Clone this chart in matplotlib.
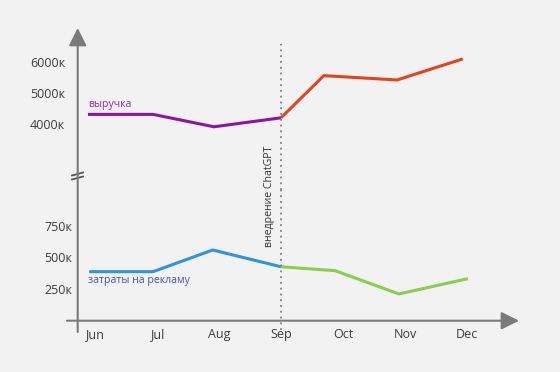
import matplotlib
matplotlib.use("Agg")
import matplotlib.pyplot as plt

plt.rcParams['font.family'] = ['Open Sans', 'DejaVu Sans']

# months on the x axis
months = ['Jun', 'Jul', 'Aug', 'Sep', 'Oct', 'Nov', 'Dec']

# revenue (thousands), before / after ChatGPT
revenue_before_x = [-0.11, 0.94, 1.92, 3.0]
revenue_before = [4310, 4310, 3910, 4200]
revenue_after_x = [3.0, 3.69, 4.87, 5.93]
revenue_after = [4200, 5560, 5420, 6100]
revenue_ticks = [4000, 5000, 6000]

# ad spend (thousands), before / after ChatGPT
cost_before_x = [-0.09, 0.94, 1.90, 3.0]
cost_before = [386, 386, 559, 425]
cost_after_x = [3.0, 3.87, 4.90, 6.01]
cost_after = [425, 394, 208, 330]
cost_ticks = [250, 500, 750]

chatgpt_month = 3

W, H = 560, 372
bg = '#f2f2f2'
axis_gray = '#7a7a7a'
text_gray = '#3c3c3c'

fig = plt.figure(figsize=(W / 100, H / 100), dpi=100, facecolor=bg)

# pixel layout
left_px, right_px = 77.7, 530
xmin = (left_px - 281) / 62.07 + 3
xmax = (right_px - 281) / 62.07 + 3

ax_top = fig.add_axes([left_px / W, (H - 190) / H, (right_px - left_px) / W, 160 / H])
ax_bot = fig.add_axes([left_px / W, (H - 320) / H, (right_px - left_px) / W, 130 / H])

for ax in (ax_top, ax_bot):
    ax.set_facecolor('none')
    for s in ax.spines.values():
        s.set_visible(False)
    ax.set_xlim(xmin, xmax)
    ax.tick_params(length=0, labelsize=9, labelcolor=text_gray)

ax_top.set_ylim(1871, 7032)
ax_bot.set_ylim(0, 1038)

ax_top.plot(revenue_before_x, revenue_before, color='#8c14a8', lw=2.2, solid_capstyle='butt')
ax_top.plot(revenue_after_x, revenue_after, color='#e5431f', lw=2.2, solid_capstyle='butt')
ax_bot.plot(cost_before_x, cost_before, color='#2f94e0', lw=2.2, solid_capstyle='butt')
ax_bot.plot(cost_after_x, cost_after, color='#8bcd4c', lw=2.2, solid_capstyle='butt')

ax_top.set_xticks([])
ax_top.set_yticks(revenue_ticks)
ax_top.set_yticklabels([f'{v}к' for v in revenue_ticks])
ax_top.tick_params(axis='y', pad=9)

ax_bot.set_xticks(range(len(months)))
ax_bot.set_xticklabels(months)
ax_bot.tick_params(axis='x', pad=6)
ax_bot.set_yticks(cost_ticks)
ax_bot.set_yticklabels([f'{v}к' for v in cost_ticks])
ax_bot.tick_params(axis='y', pad=4)

# series labels
ax_top.text(-0.11, 4645, 'выручка', color='#9a2bb0', fontsize=7.6, va='center', ha='left')
ax_bot.text(-0.11, 319, 'затраты на рекламу', color='#4a55b5', fontsize=7.6, va='center', ha='left')

# ChatGPT marker
ax_top.axvline(chatgpt_month, ymin=0, ymax=1 - 14 / 160, color='#808080', lw=1.3,
               linestyle=(0, (1, 2.2)))
ax_bot.axvline(chatgpt_month, ymin=-10 / 130, ymax=1, color='#808080', lw=1.3,
               linestyle=(0, (1, 2.2)), clip_on=False)
ax_bot.text(chatgpt_month - 0.19, 583, 'внедрение ChatGPT', rotation=90, fontsize=7.6,
            color='#333333', ha='center', va='bottom', clip_on=False)

# arrow axes drawn in pixel space
ov = fig.add_axes([0, 0, 1, 1])
ov.set_xlim(0, W)
ov.set_ylim(H, 0)
ov.axis('off')
ov.set_zorder(-1)
ov.annotate('', xy=(77.7, 28), xytext=(77.7, 332),
            arrowprops=dict(arrowstyle='-|>,head_length=0.9,head_width=0.45',
                            color=axis_gray, lw=1.5, mutation_scale=12, shrinkA=0, shrinkB=0))
ov.annotate('', xy=(519, 320.7), xytext=(67, 320.7),
            arrowprops=dict(arrowstyle='-|>,head_length=0.9,head_width=0.45',
                            color=axis_gray, lw=1.5, mutation_scale=12, shrinkA=0, shrinkB=0))
# break mark on the y axis
ov.plot([72, 83], [175.5, 172.5], color='#555555', lw=1.3)
ov.plot([72, 83], [179.5, 176.5], color='#555555', lw=1.3)

fig.savefig('out.png', dpi=100, facecolor=bg)
